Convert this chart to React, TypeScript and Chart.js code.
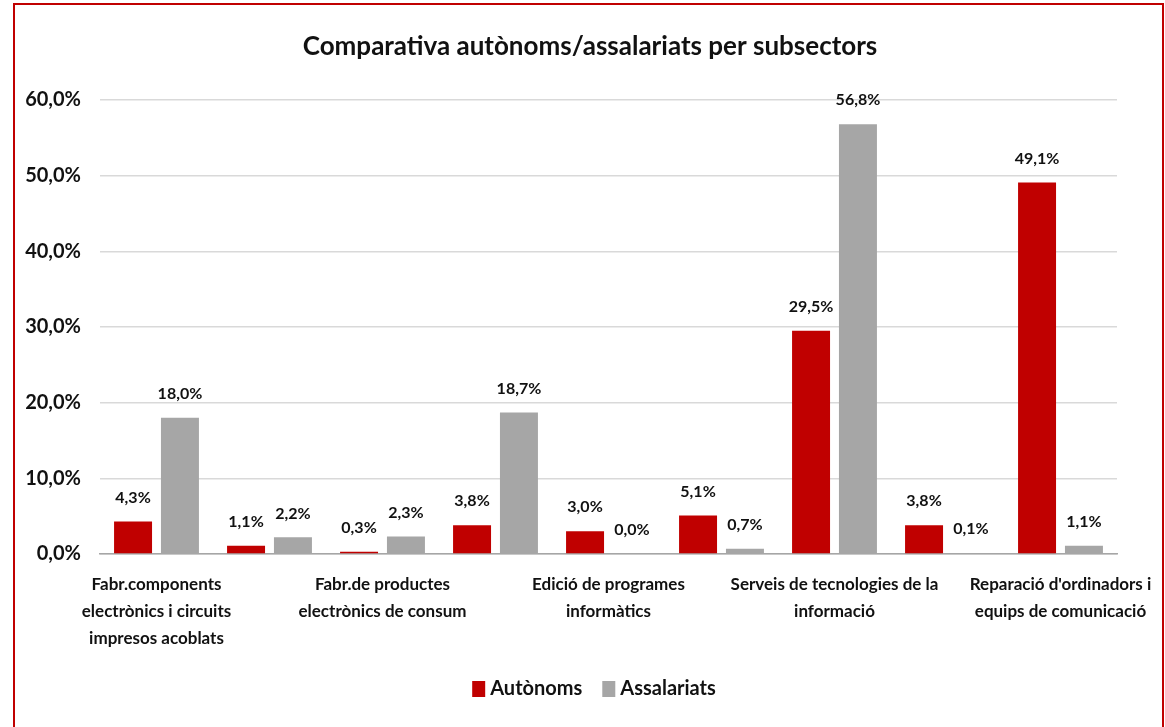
import React, { useEffect, useRef } from "react";
import { Chart, registerables } from "chart.js";

Chart.register(...registerables);

const TITLE = "Comparativa autònoms/assalariats per subsectors";
const CATEGORIES: (string | string[])[] = [
  ["Fabr.components", "electrònics i circuits", "impresos acoblats"],
  "",
  ["Fabr.de productes", "electrònics de consum"],
  "",
  ["Edició de programes", "informàtics"],
  "",
  ["Serveis de tecnologies de la", "informació"],
  "",
  ["Reparació d'ordinadors i", "equips de comunicació"],
];
const AUTONOMS = [4.3, 1.1, 0.3, 3.8, 3.0, 5.1, 29.5, 3.8, 49.1];
const ASSALARIATS = [18.0, 2.2, 2.3, 18.7, 0.0, 0.7, 56.8, 0.1, 1.1];
const SERIES_NAMES = ["Autònoms", "Assalariats"];
const SERIES_COLORS = ["#C00000", "#A6A6A6"];
const Y_TICKS = [0, 10, 20, 30, 40, 50, 60];

const FONT = "Lato, sans-serif";
const TEXT = "#111";

const fmt = (v: number) => v.toFixed(1).replace(".", ",") + "%";

const valueLabels = {
  id: "valueLabels",
  afterDatasetsDraw(chart: any) {
    const ctx = chart.ctx;
    ctx.save();
    ctx.font = `bold 16px ${FONT}`;
    ctx.fillStyle = TEXT;
    ctx.textAlign = "center";
    ctx.textBaseline = "middle";
    chart.data.datasets.forEach((ds: any, i: number) => {
      const meta = chart.getDatasetMeta(i);
      meta.data.forEach((bar: any, j: number) => {
        ctx.fillText(fmt(ds.data[j]), bar.x, bar.y - 24);
      });
    });
    ctx.restore();
  },
};

// Title and legend drawn on the canvas, centred on the framed figure
const titleAndLegend = {
  id: "titleAndLegend",
  afterDraw(chart: any) {
    const ctx = chart.ctx;
    ctx.save();
    ctx.fillStyle = TEXT;
    ctx.textBaseline = "middle";
    ctx.textAlign = "center";
    ctx.font = `bold 26px ${FONT}`;
    ctx.fillText(TITLE, 590, 47);

    ctx.font = `bold 20px ${FONT}`;
    ctx.textAlign = "left";
    const box = 13;
    const gap = 5;
    const spacing = 20;
    const widths = chart.data.datasets.map((ds: any) => ctx.measureText(ds.label).width);
    const total =
      widths.reduce((a: number, w: number) => a + box + gap + w, 0) +
      spacing * (widths.length - 1);
    let x = 594 - total / 2;
    const y = 689;
    chart.data.datasets.forEach((ds: any, i: number) => {
      ctx.fillStyle = ds.backgroundColor;
      ctx.fillRect(x, y - 8, box, 16);
      ctx.fillStyle = TEXT;
      ctx.fillText(ds.label, x + box + gap, y);
      x += box + gap + widths[i] + spacing;
    });
    ctx.restore();
  },
};

export default function App() {
  const ref = useRef<HTMLCanvasElement>(null);
  useEffect(() => {
    if (!ref.current) return;
    const chart = new Chart(ref.current, {
      type: "bar",
      data: {
        labels: CATEGORIES,
        datasets: SERIES_NAMES.map((name, i) => ({
          label: name,
          data: i === 0 ? AUTONOMS : ASSALARIATS,
          backgroundColor: SERIES_COLORS[i],
          barPercentage: 0.81,
          categoryPercentage: 0.83,
        })),
      },
      options: {
        responsive: false,
        animation: false,
        layout: { padding: { left: 20, right: 48, top: 100, bottom: 59 } },
        plugins: {
          title: { display: false },
          legend: { display: false },
          tooltip: { enabled: false },
        },
        scales: {
          x: {
            grid: { display: false, drawTicks: false },
            border: { display: true, color: "#A6A6A6", width: 1.5 },
            ticks: {
              color: TEXT,
              font: { family: FONT, size: 17, weight: "bold", lineHeight: 1.6 },
              maxRotation: 0,
              autoSkip: false,
              padding: 17,
            },
            afterFit: (s: any) => {
              s.height = 114;
              s.paddingLeft = 0;
              s.paddingRight = 0;
            },
          },
          y: {
            min: 0,
            max: 60,
            afterBuildTicks: (s: any) => {
              s.ticks = Y_TICKS.map((v) => ({ value: v }));
            },
            grid: { color: "#D9D9D9", lineWidth: 1.5, drawTicks: false },
            border: { display: false },
            ticks: {
              color: TEXT,
              font: { family: FONT, size: 20, weight: "bold" },
              padding: 19,
              callback: (v: any) => fmt(Number(v)),
            },
            afterFit: (s: any) => {
              s.width = 80;
            },
          },
        },
      },
      plugins: [valueLabels, titleAndLegend],
    });
    return () => chart.destroy();
  }, []);

  return (
    <div
      style={{
        position: "fixed",
        left: 0,
        top: 0,
        width: 1165,
        height: 727,
        background: "#fff",
        overflow: "hidden",
      }}
    >
      <canvas
        ref={ref}
        width={1165}
        height={727}
        style={{ position: "absolute", left: 0, top: 0 }}
      />
      <div
        style={{
          position: "absolute",
          left: 13,
          top: 3,
          width: 1147,
          height: 740,
          border: "2px solid #C00000",
          pointerEvents: "none",
        }}
      />
    </div>
  );
}
